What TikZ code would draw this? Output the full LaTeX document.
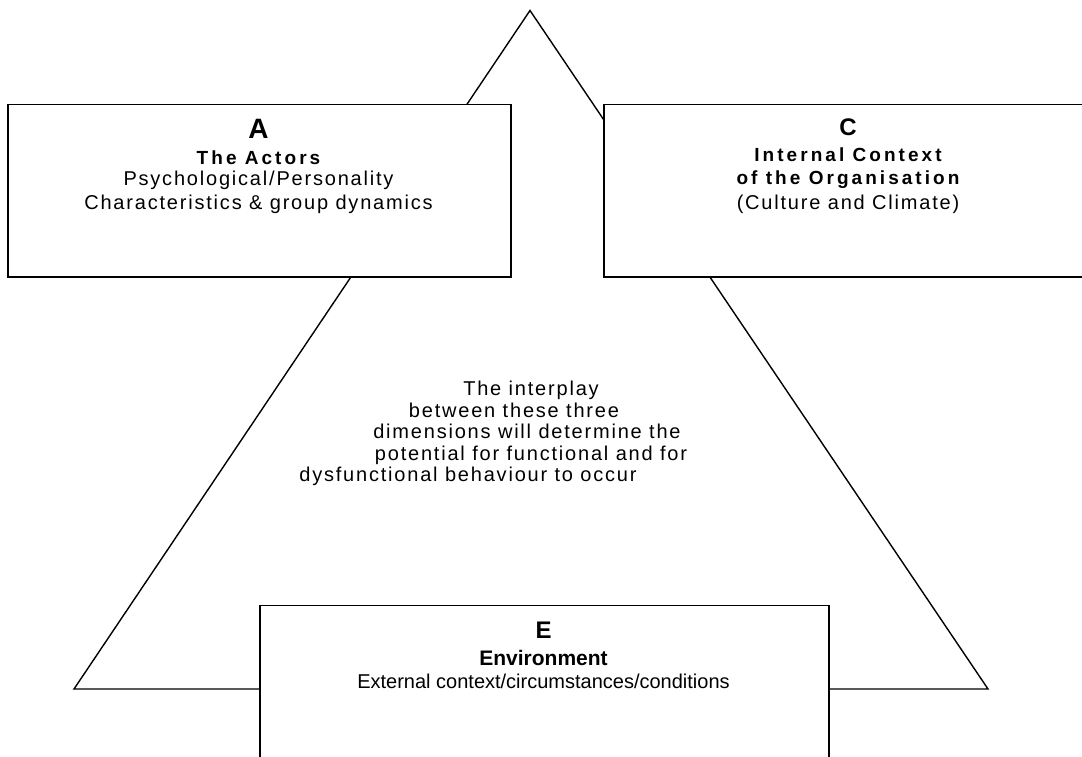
\documentclass[tikz,border=0pt]{standalone}
\usepackage{fontspec}
\setmainfont{Liberation Sans}
\newfontfamily\bodyfont{Liberation Sans}[LetterSpace=9]
\newfontfamily\headfont{Liberation Sans}[LetterSpace=16]
\begin{document}
\begin{tikzpicture}[x=1pt,y=-1pt,
  frame/.style={draw=black, line width=1.5pt, fill=white, inner sep=0pt, anchor=north west},
  edge/.style={draw=black, line width=1.4pt, line join=miter},
  txt/.style={anchor=base, inner sep=0pt, font=\bodyfont\fontsize{20}{22}\selectfont},
  head/.style={anchor=base, inner sep=0pt, font=\headfont\fontsize{19}{21}\selectfont\bfseries},
  letter/.style={anchor=base, inner sep=0pt, font=\fontsize{24}{26}\selectfont\bfseries}]
\useasboundingbox (0,0) rectangle (1082,757);
\clip (0,0) rectangle (1082,757);

% the triangle behind the three boxes
\coordinate (apex) at (530,10.5);
\coordinate (bl) at (74,689);
\coordinate (br) at (988,689);
\draw[edge] (apex) -- (br) -- (bl) -- cycle;

% the three boxes
\node[frame, minimum width=503pt, minimum height=172pt] (boxA) at (7,104) {};
\node[frame, minimum width=490pt, minimum height=172pt] (boxC) at (603,104) {};
\node[frame, minimum width=569pt, minimum height=200pt] (boxE) at (259,604.5) {};

% box A
\node[letter, font=\fontsize{28}{30}\selectfont\bfseries] (a1) at (258.5,139) {A};
\node[head] (a2) at (258.5,164.5) {The Actors};
\node[txt] (a3) at (258.5,185.5) {Psychological/Personality};
\node[txt] (a4) at (258.5,209) {Characteristics \& group dynamics};

% box C
\node[letter] (c1) at (848,136) {C};
\node[head] (c2) at (848,162) {Internal Context};
\node[head] (c3) at (848,184) {of the Organisation};
\node[txt] (c4) at (848,209) {(Culture and Climate)};

% box E
\node[letter] (e1) at (543.5,638) {E};
\node[anchor=base, inner sep=0pt, font=\fontsize{21}{23}\selectfont\bfseries] (e2) at (543.5,665) {Environment};
\node[anchor=base, inner sep=0pt, font=\fontsize{20}{22}\selectfont] (e3) at (543.5,688) {External context/circumstances/conditions};

% centre text
\node[txt] (m1) at (531,395) {The interplay};
\node[txt] (m2) at (514,417) {between these three};
\node[txt] (m3) at (527,438.5) {dimensions will determine the};
\node[txt] (m4) at (531,460) {potential for functional and for};
\node[txt] (m5) at (468,481.5) {dysfunctional behaviour to occur};
\end{tikzpicture}
\end{document}
